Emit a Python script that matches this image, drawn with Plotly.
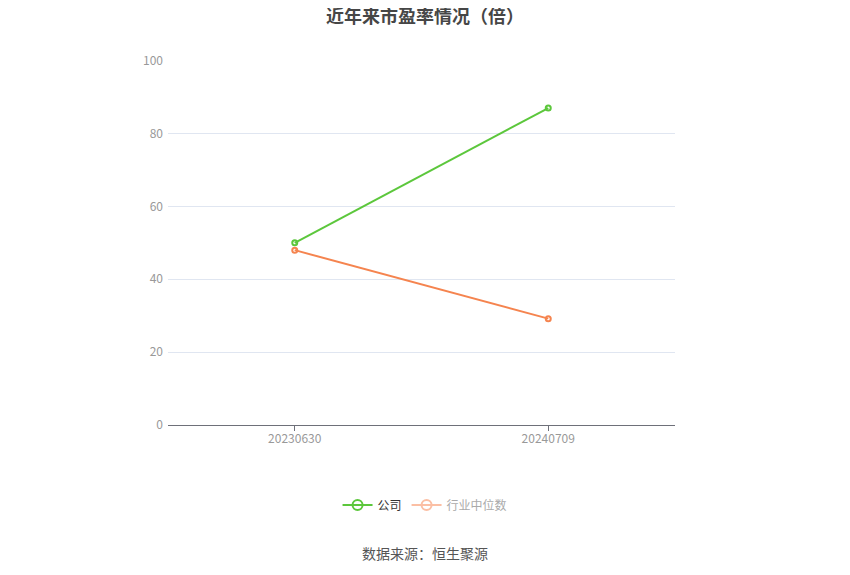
import plotly.graph_objects as go

dates = ["20230630", "20240709"]
company_pe = [50.0, 87.0]
industry_pe = [48.0, 29.2]
y_ticks = [0, 20, 40, 60, 80, 100]

green = "#5cc73c"
orange = "#f5844f"
font = "Noto Sans CJK SC"

fig = go.Figure()

# real lines, legend drawn from the dummy traces below
fig.add_trace(go.Scatter(x=dates, y=company_pe, mode="lines+markers", showlegend=False,
                         line=dict(color=green, width=2),
                         marker=dict(symbol="circle-open", size=5, line=dict(width=2, color=green))))
fig.add_trace(go.Scatter(x=dates, y=industry_pe, mode="lines+markers", showlegend=False,
                         line=dict(color=orange, width=2),
                         marker=dict(symbol="circle-open", size=5, line=dict(width=2, color=orange))))

fig.add_trace(go.Scatter(x=[None], y=[None], mode="lines+markers", name="公司",
                         line=dict(color=green, width=2),
                         marker=dict(symbol="circle-open", size=10, line=dict(width=2, color=green))))
fig.add_trace(go.Scatter(x=[None], y=[None], mode="lines+markers",
                         name="<span style='color:#aaaaaa'>行业中位数</span>",
                         line=dict(color="#fbbfa4", width=2),
                         marker=dict(symbol="circle-open", size=10, line=dict(width=2, color="#fbbfa4"))))

fig.update_layout(
    width=850, height=575,
    margin=dict(l=160, r=183, t=52, b=158),
    plot_bgcolor="white", paper_bgcolor="white",
    font=dict(family=font, size=12, color="#999999"),
    title=dict(text="<b>近年来市盈率情况（倍）</b>", x=417 / 850, xanchor="center", y=0.995, yanchor="top",
               pad=dict(t=0), font=dict(size=18, color="#464646", family=font)),
    legend=dict(orientation="h", x=0.507, xanchor="center", y=-0.219, yanchor="middle",
                font=dict(size=12, color="#333333"), itemwidth=30),
    showlegend=True,
)

fig.update_xaxes(type="category", showline=True, linecolor="#6e7079", linewidth=1,
                 ticks="outside", ticklen=5, tickcolor="#6e7079", showgrid=False,
                 range=[-0.5, 1.5], ticklabelstandoff=-2, tickfont=dict(color="#999999", size=12))
fig.update_yaxes(range=[0, 100.2], tickvals=y_ticks, showgrid=True, gridcolor="#e0e6f1",
                 zeroline=False, showline=False, ticks="", ticklabelstandoff=4,
                 tickfont=dict(color="#999999", size=12))

fig.add_annotation(text="数据来源：恒生聚源", xref="paper", yref="paper", x=0.507, y=-0.383,
                   showarrow=False, font=dict(size=14, color="#555555", family=font))

fig.write_html("out.html")
